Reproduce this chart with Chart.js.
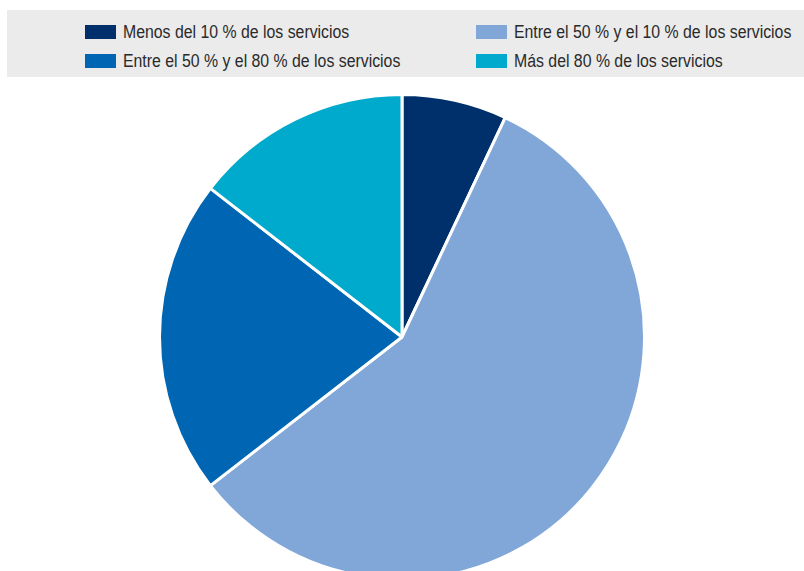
<!DOCTYPE html>
<html>
<head>
<meta charset="utf-8">
<script src="https://cdn.jsdelivr.net/npm/chart.js@4"></script>
<style>
    html, body { margin: 0; padding: 0; width: 804px; height: 571px; overflow: hidden; background: #fff; }
    #leyenda {
        position: absolute; left: 7px; top: 10px; width: 797px; height: 67px;
        background: #ebebeb;
    }
    .caja { position: absolute; width: 31px; height: 14px; }
    .texto {
        position: absolute; height: 18px; line-height: 18px;
        font-family: 'Liberation Sans', Arial, sans-serif; font-size: 18px; color: #2a2a2a;
        white-space: nowrap; transform-origin: left center; transform: scaleX(0.88);
    }
    #wrap { position: absolute; left: 0; top: 93px; width: 804px; height: 488px; }
</style>
</head>
<body>
<div id="leyenda"></div>
<div id="wrap"><canvas id="tarta"></canvas></div>
<script>
var etiquetas = [
    'Menos del 10 % de los servicios',
    'Entre el 50 % y el 10 % de los servicios',
    'Entre el 50 % y el 80 % de los servicios',
    'Más del 80 % de los servicios'
];
var valores = [7, 57.5, 21, 14.5];
var colores = ['#00306b', '#80a7d8', '#0066b3', '#00aacc'];

// leyenda en dos columnas: 0 y 2 a la izquierda, 1 y 3 a la derecha
var columnas = [78, 469, 78, 469];
var filas = [15, 15, 44, 44];
var leyenda = document.getElementById('leyenda');
etiquetas.forEach(function(texto, i) {
    var caja = document.createElement('div');
    caja.className = 'caja';
    caja.style.left = columnas[i] + 'px';
    caja.style.top = filas[i] + 'px';
    caja.style.background = colores[i];
    leyenda.appendChild(caja);

    var t = document.createElement('div');
    t.className = 'texto';
    t.style.left = (columnas[i] + 38) + 'px';
    t.style.top = (filas[i] - 2) + 'px';
    t.textContent = texto;
    leyenda.appendChild(t);
});

var ctx = document.getElementById('tarta').getContext('2d');
var tarta = new Chart(ctx, {
    type: 'pie',
    data: {
        labels: etiquetas,
        datasets: [{
            data: valores,
            backgroundColor: colores,
            borderColor: '#ffffff',
            borderWidth: 3
        }]
    },
    options: {
        responsive: true,
        maintainAspectRatio: false,
        animation: false,
        layout: { padding: 0 },
        plugins: {
            legend: { display: false },
            tooltip: { enabled: false }
        }
    }
});
</script>
</body>
</html>
